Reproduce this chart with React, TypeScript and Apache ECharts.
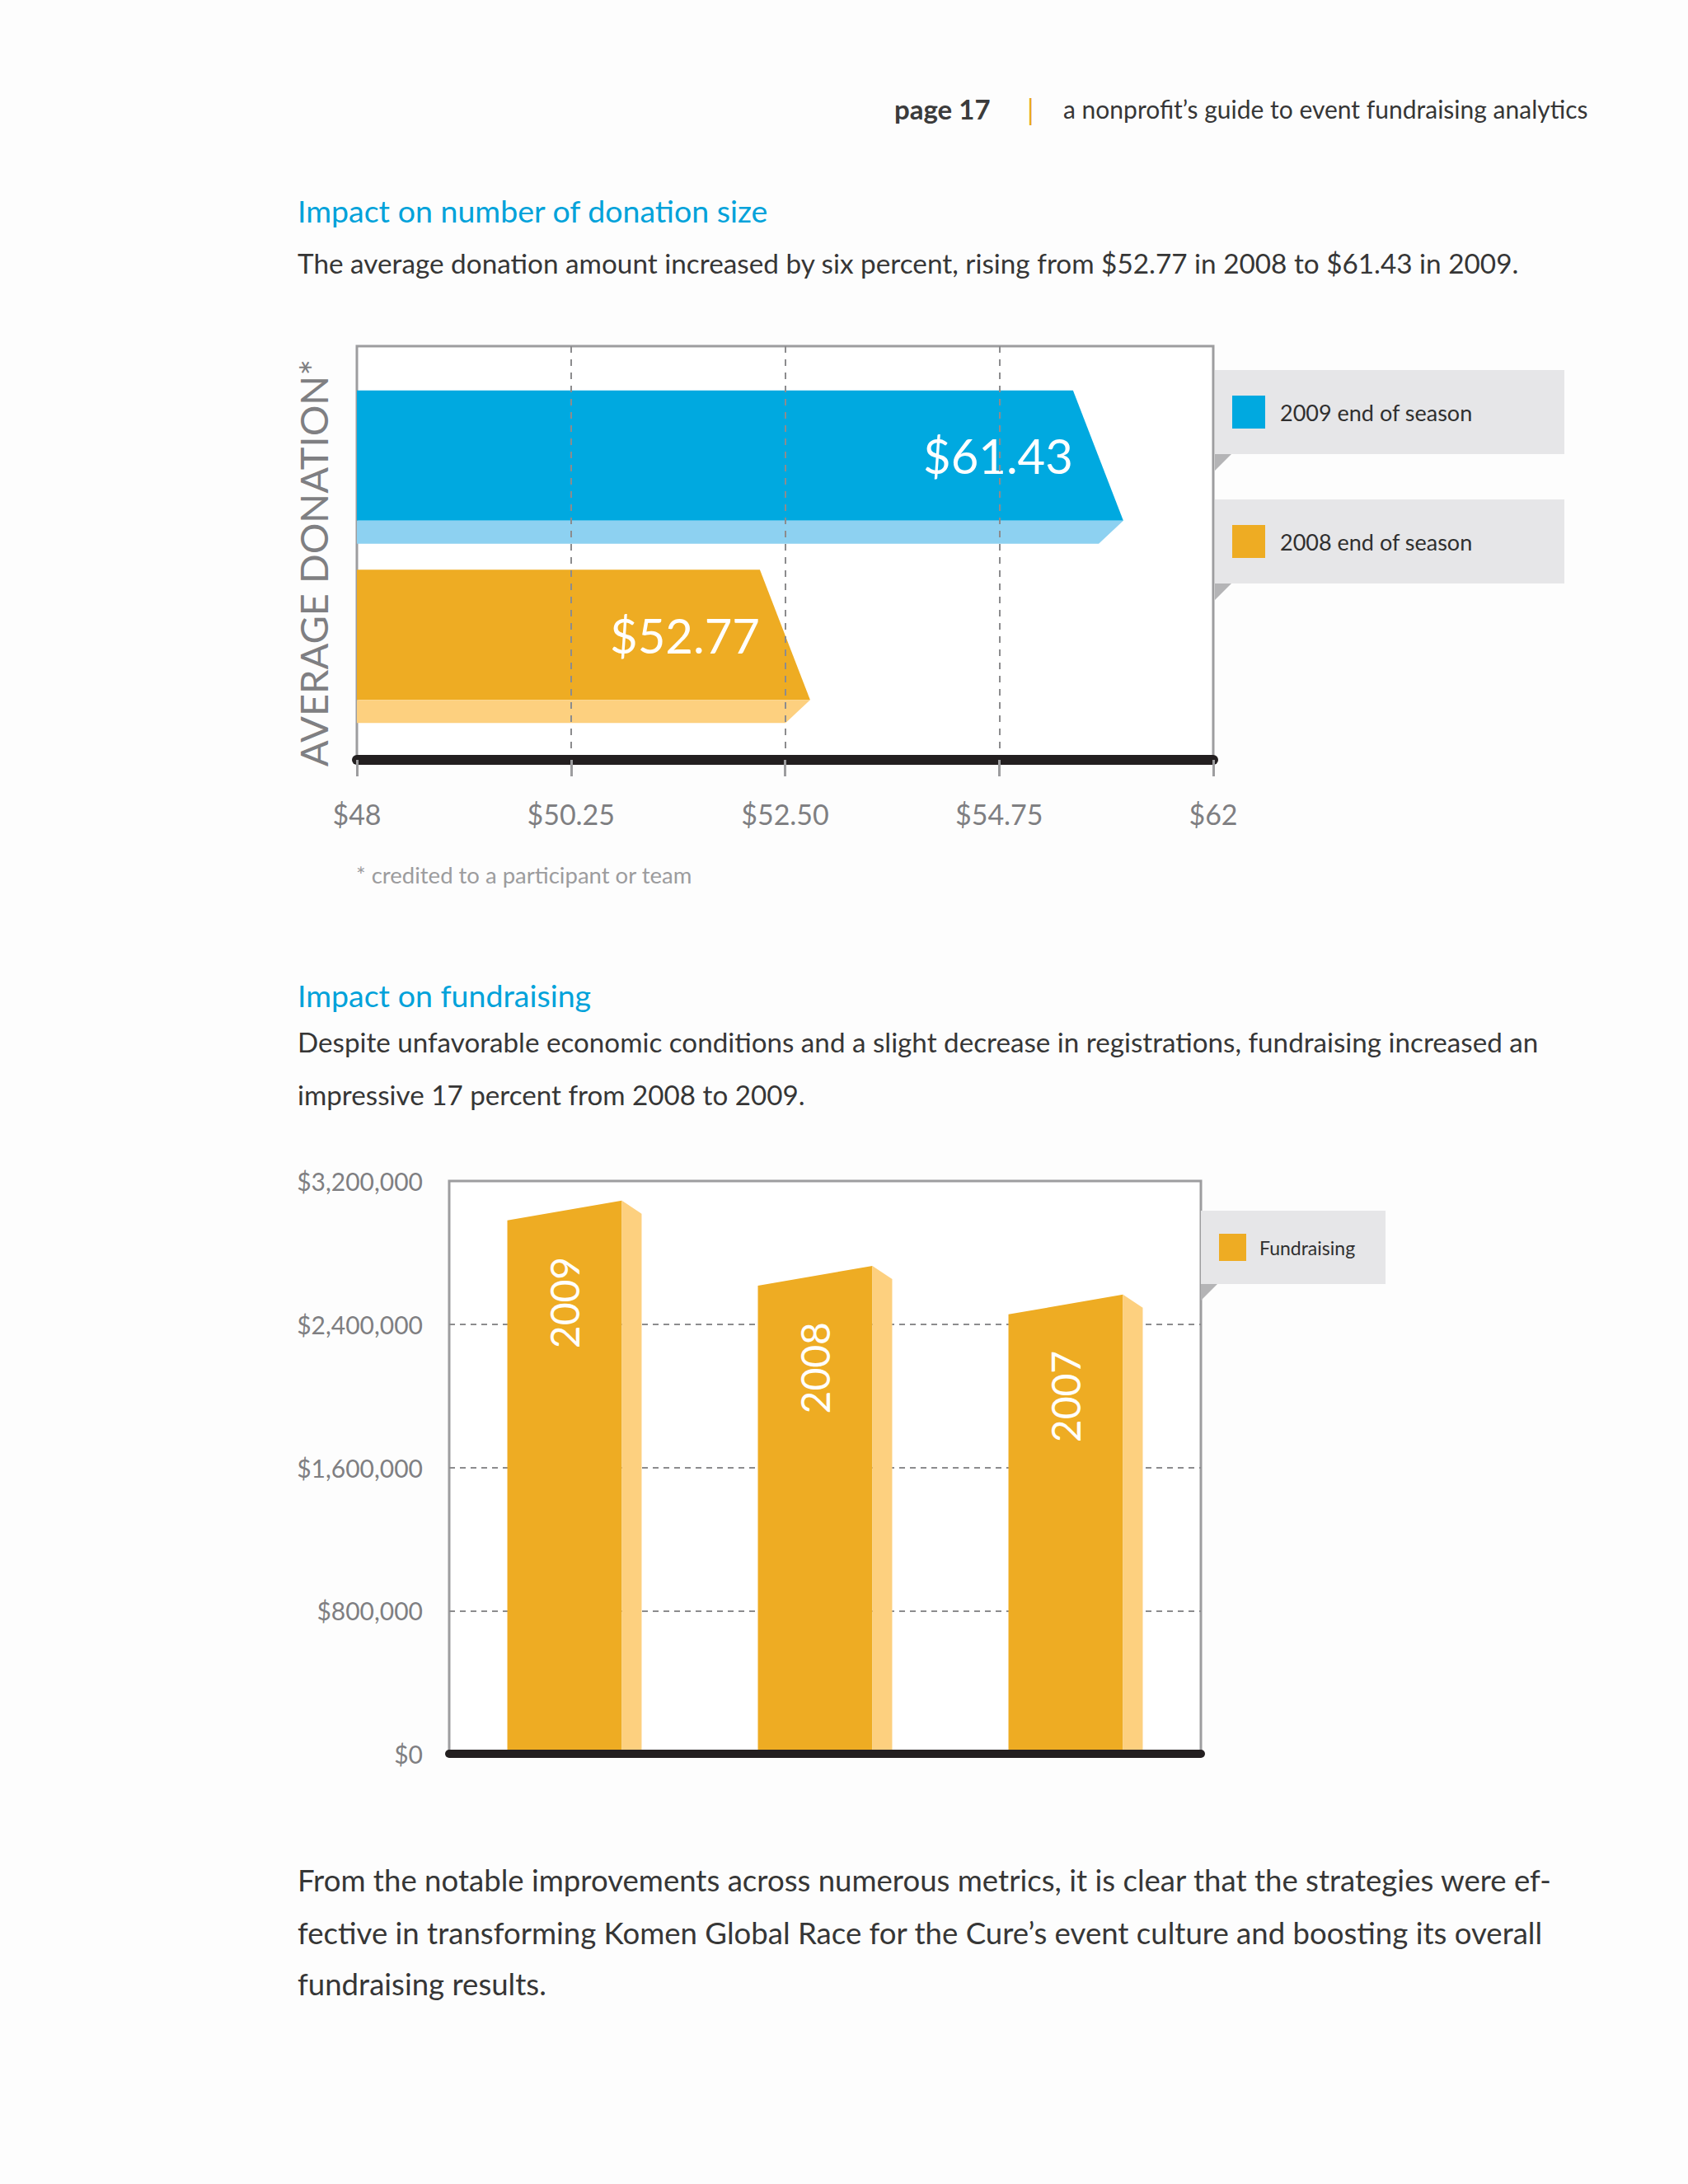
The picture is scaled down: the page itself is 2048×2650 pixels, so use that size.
import React, { useEffect, useRef } from "react";
import * as echarts from "echarts";

// ---------- data ----------
const donationCategories = ["2009 end of season", "2008 end of season"];
const donationValues = [61.43, 52.77]; // printed amounts
const donationBarEnds = [60.53, 55.41]; // bar tips as read against the drawn axis
const donationTickLabels = ["$48", "$50.25", "$52.50", "$54.75", "$62"];
const donationMin = 48;
const donationMax = 62;
const donationColors = ["#00a9e0", "#eeac23"];
const donationShades = ["#8dd1f1", "#fdd07f"];

const fundYears = ["2009", "2008", "2007"];
const fundValues = [2980000, 2615000, 2455000];
const fundMax = 3200000;
const fundInterval = 800000;
const fundLegend = "Fundraising";

const FONT = "Lato, 'Open Sans', sans-serif";
const BODY = "#363636";
const BLUE_TITLE = "#00a2da";
const GREY = "#7f7f82";

function txt(x: number, y: number, text: string, size: number, fill: string, extra: any = {}) {
  return {
    type: "text",
    x,
    y,
    silent: true,
    style: {
      text,
      fill,
      fontSize: size,
      fontFamily: FONT,
      fontWeight: extra.weight || "normal",
      align: extra.align || "left",
      verticalAlign: "middle",
    },
  };
}

function legendBox(x: number, y: number, w: number, h: number, sw: number, swX: number, color: string, label: string, size: number, textX: number) {
  return [
    { type: "rect", shape: { x, y, width: w, height: h }, style: { fill: "#e6e6e8" }, silent: true },
    {
      type: "polygon",
      shape: { points: [[x, y + h], [x + 20, y + h], [x, y + h + 20]] },
      style: { fill: "#b4b4b6" },
      silent: true,
    },
    { type: "rect", shape: { x: swX, y: y + h / 2 - sw / 2, width: sw, height: sw }, style: { fill: color }, silent: true },
    txt(textX, y + h / 2, label, size, "#2f2f2f"),
  ];
}

export default function App() {
  const ref = useRef<HTMLDivElement>(null);

  useEffect(() => {
    if (!ref.current) return;
    const chart = echarts.init(ref.current, undefined, { renderer: "svg" });

    const option: any = {
      animation: false,
      backgroundColor: "#fdfdfd",
      grid: [
        {
          left: 433, top: 420, width: 1039, height: 502, show: true,
          backgroundColor: "#ffffff", borderColor: "#9d9d9f", borderWidth: 3,
        },
        { left: 433, top: 458, width: 1039, height: 435, show: false },
        {
          left: 545, top: 1433, width: 912, height: 695, show: true,
          backgroundColor: "#ffffff", borderColor: "#9d9d9f", borderWidth: 3,
        },
      ],
      xAxis: [
        {
          gridIndex: 0, type: "value", min: donationMin, max: donationMax,
          interval: (donationMax - donationMin) / (donationTickLabels.length - 1),
          z: 5,
          axisLine: { show: true, lineStyle: { color: "#231f20", width: 12 } },
          axisTick: { show: true, length: 20, lineStyle: { color: "#9d9d9f", width: 3 } },
          axisLabel: {
            margin: 48, color: GREY, fontSize: 34, fontFamily: FONT,
            formatter: (v: number) =>
              donationTickLabels[Math.round(((v - donationMin) / (donationMax - donationMin)) * (donationTickLabels.length - 1))],
          },
          splitLine: {
            show: true, showMinLine: false, showMaxLine: false,
            lineStyle: { color: "#8c8c8e", width: 2, type: [8, 8] },
          },
        },
        { gridIndex: 1, type: "value", min: donationMin, max: donationMax, show: false },
        {
          gridIndex: 2, type: "category", data: fundYears, z: 5,
          axisLine: { show: true, lineStyle: { color: "#231f20", width: 10 } },
          axisTick: { show: false }, axisLabel: { show: false },
        },
      ],
      yAxis: [
        {
          gridIndex: 0, type: "value", min: 0, max: 1,
          axisLine: { show: false }, axisTick: { show: false }, axisLabel: { show: false },
          splitLine: { show: false },
          name: "AVERAGE DONATION*", nameLocation: "middle", nameRotate: 90, nameGap: 30,
          nameTextStyle: { color: GREY, fontSize: 47, fontFamily: FONT, padding: [0, 24, 0, 0] },
        },
        { gridIndex: 1, type: "category", data: donationCategories, inverse: true, show: false },
        {
          gridIndex: 2, type: "value", min: 0, max: fundMax, interval: fundInterval,
          axisLine: { show: false }, axisTick: { show: false },
          axisLabel: {
            margin: 32, color: GREY, fontSize: 30, fontFamily: FONT,
            formatter: (v: number) => "$" + v.toLocaleString("en-US"),
          },
          splitLine: {
            show: true, showMinLine: false, showMaxLine: false,
            lineStyle: { color: "#8c8c8e", width: 2, type: [7, 6] },
          },
        },
      ],
      series: [
        {
          type: "custom",
          xAxisIndex: 1,
          yAxisIndex: 1,
          z: 2,
          encode: { x: 0, y: 1 },
          data: donationBarEnds.map((v, i) => [v, i, donationValues[i]]),
          renderItem: (params: any, api: any) => {
            const idx = api.value(1);
            const end = api.value(0);
            const start = api.coord([donationMin, idx]);
            const tip = api.coord([end, idx]);
            const band = api.size([0, 1])[1];
            const h = band * 0.855;
            const mainH = h * 0.85;
            const top = tip[1] - h / 2;
            const x0 = start[0];
            const xt = tip[0];
            const xTop = xt - mainH * 0.386;
            const xBot = xt - (h - mainH) * 1.07;
            return {
              type: "group",
              children: [
                {
                  type: "polygon",
                  shape: { points: [[x0, top], [xTop, top], [xt, top + mainH], [x0, top + mainH]] },
                  style: { fill: donationColors[idx] },
                },
                {
                  type: "polygon",
                  shape: { points: [[x0, top + mainH], [xt, top + mainH], [xBot, top + h], [x0, top + h]] },
                  style: { fill: donationShades[idx] },
                },
                {
                  type: "text",
                  x: xTop,
                  y: top + mainH / 2,
                  style: {
                    text: "$" + api.value(2).toFixed(2),
                    fill: "#ffffff",
                    fontSize: 58,
                    fontFamily: FONT,
                    align: "right",
                    verticalAlign: "middle",
                  },
                },
              ],
            };
          },
        },
        {
          type: "custom",
          xAxisIndex: 2,
          yAxisIndex: 2,
          z: 2,
          encode: { x: 0, y: 1 },
          data: fundValues.map((v, i) => [i, v]),
          renderItem: (params: any, api: any) => {
            const idx = api.value(0);
            const v = api.value(1);
            const base = api.coord([idx, 0]);
            const topPt = api.coord([idx, v]);
            const band = api.size([1, 0])[0];
            const fw = band * 0.457;
            const sw = band * 0.079;
            const x0 = base[0] - (fw + sw) / 2;
            const x1 = x0 + fw;
            const x2 = x1 + sw;
            const rise = fw * 0.173;
            const drop = sw * 0.667;
            const ty = topPt[1];
            return {
              type: "group",
              children: [
                {
                  type: "polygon",
                  shape: { points: [[x0, base[1]], [x0, ty], [x1, ty - rise], [x1, base[1]]] },
                  style: { fill: "#eeac23" },
                },
                {
                  type: "polygon",
                  shape: { points: [[x1, ty - rise], [x2, ty - rise + drop], [x2, base[1]], [x1, base[1]]] },
                  style: { fill: "#fdd07f" },
                },
                {
                  type: "text",
                  x: x0 + fw / 2,
                  y: ty + 44,
                  rotation: Math.PI / 2,
                  style: {
                    text: fundYears[idx],
                    fill: "#ffffff",
                    fontSize: 48,
                    fontFamily: FONT,
                    align: "right",
                    verticalAlign: "middle",
                  },
                },
              ],
            };
          },
        },
      ],
      graphic: [
        txt(1085, 132, "page 17", 33, "#3b3b3b", { weight: "bold" }),
        txt(1246, 132, "|", 34, "#e8a820"),
        txt(1290, 132, "a nonprofit\u2019s guide to event fundraising analytics", 30, BODY),
        txt(361, 255, "Impact on number of donation size", 37.5, BLUE_TITLE),
        txt(361, 319, "The average donation amount increased by six percent, rising from $52.77 in 2008 to $61.43 in 2009.", 33.3, BODY),
        txt(432, 1061, "* credited to a participant or team", 27.5, "#9c9c9e"),
        txt(361, 1207, "Impact on fundraising", 37.5, BLUE_TITLE),
        txt(361, 1264, "Despite unfavorable economic conditions and a slight decrease in registrations, fundraising increased an", 33.2, BODY),
        txt(361, 1328, "impressive 17 percent from 2008 to 2009.", 33.2, BODY),
        txt(361, 2281, "From the notable improvements across numerous metrics, it is clear that the strategies were ef-", 36.6, BODY),
        txt(361, 2345, "fective in transforming Komen Global Race for the Cure\u2019s event culture and boosting its overall", 36.6, BODY),
        txt(361, 2407, "fundraising results.", 36.6, BODY),
        ...legendBox(1474, 449, 424, 102, 40, 1495, donationColors[0], donationCategories[0], 27, 1553),
        ...legendBox(1474, 606, 424, 102, 40, 1495, donationColors[1], donationCategories[1], 27, 1553),
        ...legendBox(1457, 1469, 224, 89, 33, 1479, "#eeac23", fundLegend, 23, 1528),
      ],
    };

    chart.setOption(option);
    return () => chart.dispose();
  }, []);

  return (
    <div
      ref={ref}
      style={{ position: "absolute", left: 0, top: 0, width: 2048, height: 2650 }}
    />
  );
}
